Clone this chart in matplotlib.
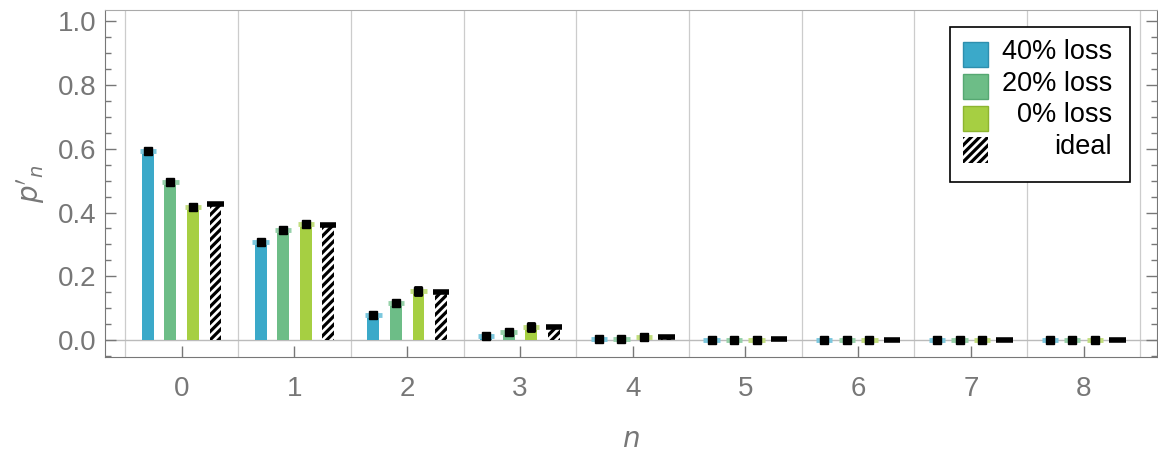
import numpy as np
import matplotlib.pyplot as plt
from matplotlib.patches import Rectangle
from matplotlib.transforms import Affine2D

plt.rcParams['font.family'] = ['Liberation Sans', 'DejaVu Sans']
plt.rcParams['hatch.linewidth'] = 2.3

# ---- data ----
n = np.arange(9)
loss40 = [0.593, 0.307, 0.079, 0.013, 0.002, 0.000, 0.000, 0.000, 0.000]
loss20 = [0.497, 0.346, 0.117, 0.026, 0.003, 0.000, 0.000, 0.000, 0.000]
loss0 = [0.417, 0.365, 0.153, 0.042, 0.009, 0.001, 0.000, 0.000, 0.000]
ideal = [0.428, 0.360, 0.152, 0.042, 0.009, 0.002, 0.000, 0.000, 0.000]
err40 = [0.002, 0.002, 0.002, 0.002, 0.001, 0.001, 0.001, 0.001, 0.001]
err20 = [0.003, 0.003, 0.004, 0.004, 0.002, 0.001, 0.001, 0.001, 0.001]
err0 = [0.003, 0.008, 0.012, 0.012, 0.010, 0.008, 0.003, 0.002, 0.002]
labels = ["40% loss", "20% loss", "0% loss", "ideal"]
colors = ["#3BA9C9", "#6DBD87", "#A6CF42"]
caps = ["#7CC8DE", "#96D1A9", "#C2DE7E"]
edges = ['#2E8FAE', '#56A872', '#8DB530']

W, H = 1158, 455
fig = plt.figure(figsize=(W / 100, H / 100), dpi=100)
ax = fig.add_axes([0.0907, 0.2154, 0.9083, 0.7626])

w = 0.105
cw = 0.145
offsets = [-0.3, -0.1, 0.1, 0.3]
gray = "#777777"

for vals, errs, c, cc, off in zip([loss40, loss20, loss0], [err40, err20, err0],
                                 colors, caps, offsets[:3]):
    x = n + off
    ax.bar(x, vals, width=w, color=c, zorder=2)
    ax.hlines(vals, x - cw / 2, x + cw / 2, color=cc, lw=3.5, zorder=3)
    ax.errorbar(x, vals, yerr=errs, fmt='s', color='black', ms=5.5,
                elinewidth=2, capsize=3, capthick=2, zorder=4)

x = n + offsets[3]
ax.bar(x, ideal, width=w, color='white', edgecolor='black', hatch='////',
       linewidth=0, zorder=2)
ax.hlines(ideal, x - cw / 2, x + cw / 2, color='black', lw=4, zorder=3)

# grid and zero line
for g in np.arange(-0.5, 9, 1):
    ax.axvline(g, color='#cccccc', lw=0.9, zorder=0)
ax.axhline(0, color='#bbbbbb', lw=1.0, zorder=1)

ax.set_xlim(-0.68, 8.65)
ax.set_ylim(-0.053, 1.035)
ax.set_xticks(n)
ax.set_yticks([0, 0.2, 0.4, 0.6, 0.8, 1.0])
ax.set_yticks(np.arange(-0.05, 1.03, 0.05), minor=True)
ax.yaxis.set_major_formatter(plt.FuncFormatter(lambda v, p: f"{v:.1f}"))
ax.tick_params(axis='y', which='both', direction='in', right=True, colors=gray,
               labelsize=20, labelcolor=gray, pad=6)
ax.tick_params(axis='y', which='major', length=8, width=1)
ax.tick_params(axis='y', which='minor', length=4, width=1)
ax.tick_params(axis='x', direction='in', length=8, width=1, colors=gray,
               labelsize=20, labelcolor=gray, pad=14)
for s in ax.spines.values():
    s.set_color(gray)
ax.spines['top'].set_color('#aaaaaa')

ax.set_xlabel("$n$", fontsize=20, color=gray, labelpad=18)
ax.set_ylabel("$p'_n$", fontsize=20, color=gray, labelpad=8)

# legend drawn by hand, in figure pixels (origin top-left)
pix = Affine2D().scale(1 / W, -1 / H).translate(0, 1) + fig.transFigure
fig.add_artist(Rectangle((950, 27), 180, 155, transform=pix, facecolor='white',
                         edgecolor='black', lw=1.2, zorder=10))
rows = [42, 74, 105.5, 137]
for i, lab in enumerate(labels):
    if i < 3:
        sq = Rectangle((962.5, rows[i]), 25.5, 25, transform=pix,
                       facecolor=colors[i], edgecolor=edges[i], lw=1, zorder=11)
    else:
        sq = Rectangle((962.5, rows[i]), 25.5, 26, transform=pix,
                       facecolor='white', edgecolor='black', hatch='////',
                       lw=0, zorder=11)
    fig.add_artist(sq)
    fig.text(1112, rows[i] + 17, lab, transform=pix, ha='right', va='baseline',
             fontsize=19.5, color='black', zorder=12)

fig.savefig("out.png", dpi=100)
